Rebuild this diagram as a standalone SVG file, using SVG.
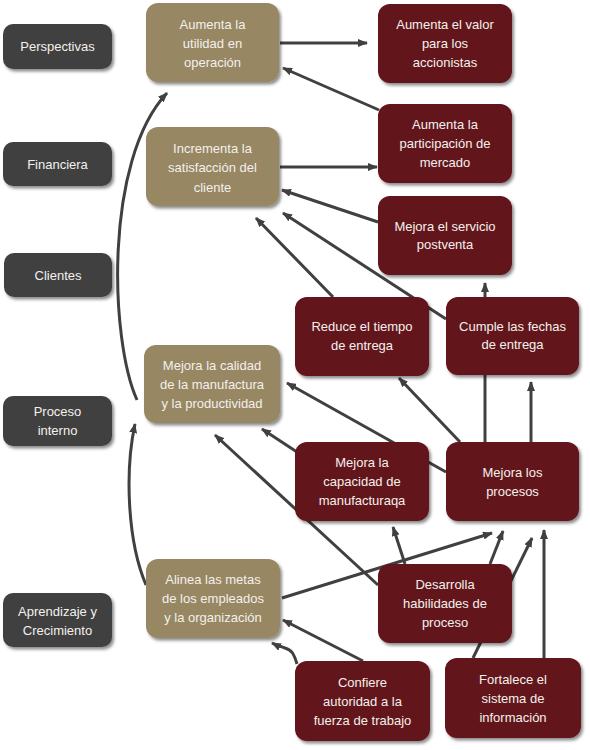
<svg xmlns="http://www.w3.org/2000/svg" width="590" height="750" viewBox="0 0 590 750">
<defs>
<filter id="sh" x="-10%" y="-10%" width="125%" height="130%">
<feDropShadow dx="2" dy="2.5" stdDeviation="1.6" flood-color="#000" flood-opacity="0.45"/>
</filter>
<marker id="ah" viewBox="0 0 10 8" refX="9" refY="4" markerWidth="10" markerHeight="8" markerUnits="userSpaceOnUse" orient="auto">
<path d="M0,0 L10,4 L0,8 z" fill="#404040"/>
</marker>
<style>
.c{fill:none;stroke:#404040;stroke-width:3;marker-end:url(#ah)}
.n{fill:none;stroke:#404040;stroke-width:3}
.g rect{fill:#414141;filter:url(#sh)}
.t rect{fill:#978764;filter:url(#sh)}
.r rect{fill:#62121a;filter:url(#sh)}
text{font-family:"Liberation Sans",Arial,sans-serif;font-size:13px;fill:#f4f0ec;text-anchor:middle}
</style>
</defs>
<rect width="590" height="750" fill="#fff"/>
<g id="connectors">
<path class="c" d="M280,43 L367,43"/>
<path class="c" d="M379,110 L283,68"/>
<path class="c" d="M280,167 L377,167"/>
<path class="c" d="M378,222 L282,190"/>
<path class="c" d="M446,319 L283,213"/>
<path class="c" d="M333,297 L256,218"/>
<path class="c" d="M485,442 L485,283"/>
<path class="c" d="M531,442 L531,382"/>
<path class="c" d="M460,442 L399,378"/>
<path class="c" d="M446,472 L287,383"/>
<path class="c" d="M297,452 L262,429"/>
<path class="c" d="M378,585 L215,435"/>
<path class="c" d="M405,564 L393,527"/>
<path class="c" d="M282,598 L492,533"/>
<path class="c" d="M490,564 L503,531"/>
<path class="c" d="M473,658 L532,538"/>
<path class="c" d="M544,658 L544,530"/>
<path class="c" d="M363,661 L283,620"/>
<path class="c" d="M297,664 C294,654 292,650 285,648 C280,646 276,645 272,643"/>
<path class="c" d="M146,585 C127,540 125,470 135,424"/>
<path class="c" d="M137,400 C110,340 104,160 167,93"/>
</g>
<g id="perspectivas" class="g"><rect x="3" y="24" width="109" height="45" rx="10"/><text x="57.5" y="51">Perspectivas</text></g>
<g id="financiera" class="g"><rect x="3" y="142" width="109" height="44" rx="10"/><text x="57.5" y="168.5">Financiera</text></g>
<g id="clientes" class="g"><rect x="4" y="253" width="108" height="44" rx="10"/><text x="58" y="279.5">Clientes</text></g>
<g id="proceso-interno" class="g"><rect x="3" y="396" width="109" height="50" rx="10"/><text x="57.5" y="416">Proceso</text><text x="57.5" y="435">interno</text></g>
<g id="aprendizaje" class="g"><rect x="3" y="593" width="109" height="54" rx="10"/><text x="57.5" y="615.5">Aprendizaje y</text><text x="57.5" y="634.5">Crecimiento</text></g>
<g id="utilidad" class="t"><rect x="146" y="3" width="133" height="79" rx="12"/><text x="212.5" y="28.5">Aumenta la</text><text x="212.5" y="47.5">utilidad en</text><text x="212.5" y="66.5">operación</text></g>
<g id="satisfaccion" class="t"><rect x="146" y="127" width="133" height="79" rx="12"/><text x="212.5" y="152.5">Incrementa la</text><text x="212.5" y="172">satisfacción del</text><text x="212.5" y="191.5">cliente</text></g>
<g id="calidad" class="t"><rect x="144" y="345" width="136" height="78" rx="12"/><text x="212" y="369.5">Mejora la calidad</text><text x="212" y="388.5">de la manufactura</text><text x="212" y="407.5">y la productividad</text></g>
<g id="alinea" class="t"><rect x="146" y="559" width="134" height="79" rx="12"/><text x="213" y="583.5">Alinea las metas</text><text x="213" y="603">de los empleados</text><text x="213" y="622">y la organización</text></g>
<g id="valor" class="r"><rect x="378" y="4" width="134" height="79" rx="12"/><text x="445" y="28.5">Aumenta el valor</text><text x="445" y="47.5">para los</text><text x="445" y="66.5">accionistas</text></g>
<g id="participacion" class="r"><rect x="378" y="104" width="134" height="79" rx="12"/><text x="445" y="128.5">Aumenta la</text><text x="445" y="147.5">participación de</text><text x="445" y="166.5">mercado</text></g>
<g id="servicio" class="r"><rect x="378" y="196" width="134" height="79" rx="12"/><text x="445" y="230.5">Mejora el servicio</text><text x="445" y="249">postventa</text></g>
<g id="reduce" class="r"><rect x="295" y="297" width="134" height="79" rx="12"/><text x="362" y="330.5">Reduce el tiempo</text><text x="362" y="349.5">de entrega</text></g>
<g id="cumple" class="r"><rect x="446" y="297" width="133" height="78" rx="12"/><text x="512.5" y="330.5">Cumple las fechas</text><text x="512.5" y="349">de entrega</text></g>
<g id="capacidad" class="r"><rect x="295" y="442" width="134" height="79" rx="12"/><text x="362" y="467">Mejora la</text><text x="362" y="486">capacidad de</text><text x="362" y="505">manufacturaqa</text></g>
<g id="procesos" class="r"><rect x="446" y="442" width="133" height="79" rx="12"/><text x="512.5" y="477">Mejora los</text><text x="512.5" y="496">procesos</text></g>
<g id="desarrolla" class="r"><rect x="378" y="564" width="134" height="79" rx="12"/><text x="445" y="588.5">Desarrolla</text><text x="445" y="607.5">habilidades de</text><text x="445" y="626.5">proceso</text></g>
<g id="confiere" class="r"><rect x="295" y="661" width="135" height="80" rx="12"/><text x="362.5" y="687">Confiere</text><text x="362.5" y="706">autoridad a la</text><text x="362.5" y="725">fuerza de trabajo</text></g>
<g id="fortalece" class="r"><rect x="445" y="658" width="136" height="80" rx="12"/><text x="513" y="684">Fortalece el</text><text x="513" y="703">sistema de</text><text x="513" y="722">información</text></g>
</svg>
